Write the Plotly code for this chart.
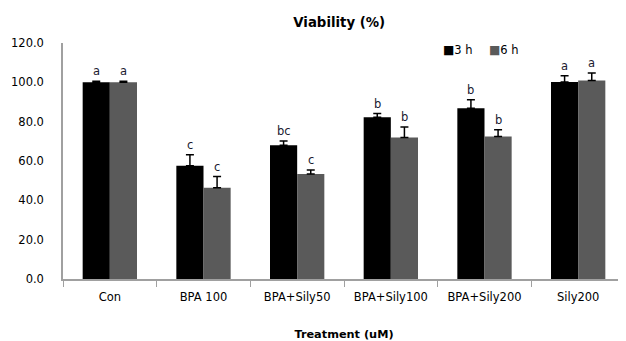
import plotly.graph_objects as go

categories = ["Con", "BPA 100", "BPA+Sily50", "BPA+Sily100", "BPA+Sily200", "Sily200"]
series_names = ["3 h", "6 h"]
series_colors = ["#000000", "#5a5a5a"]
values_3h = [100.0, 57.6, 68.0, 82.2, 86.8, 100.2]
errors_3h = [0.6, 5.6, 2.2, 1.9, 4.4, 3.2]
values_6h = [100.0, 46.4, 53.4, 72.0, 72.5, 100.9]
errors_6h = [0.6, 5.7, 2.0, 5.3, 3.4, 3.8]
letters_3h = ["a", "c", "bc", "b", "b", "a"]
letters_6h = ["a", "c", "c", "b", "b", "a"]
y_ticks = [0, 20, 40, 60, 80, 100, 120]

font = "DejaVu Sans"

fig = go.Figure()
for name, vals, errs, color in [
    (series_names[0], values_3h, errors_3h, series_colors[0]),
    (series_names[1], values_6h, errors_6h, series_colors[1]),
]:
    fig.add_trace(go.Bar(
        x=categories, y=vals, name=name, marker_color=color,
        marker_line_width=0, showlegend=False,
        error_y=dict(type="data", array=errs, arrayminus=[0] * len(errs),
                     symmetric=False, color="#000000", thickness=1.5, width=4),
    ))

bar_px = 13.6
for letters, vals, errs, shift in [
    (letters_3h, values_3h, errors_3h, -bar_px),
    (letters_6h, values_6h, errors_6h, bar_px),
]:
    for c, l, v, e in zip(categories, letters, vals, errs):
        fig.add_annotation(x=c, y=v + e, text=l, showarrow=False,
                           xshift=shift, yshift=1, yanchor="bottom",
                           font=dict(family=font, size=11.5, color="#202030"))

# compact Excel-style legend: coloured square glyph followed by the series name
for name, color, lx in zip(series_names, series_colors, [0.672, 0.754]):
    fig.add_annotation(
        xref="paper", yref="paper", x=lx, y=0.97, xanchor="left", yanchor="middle",
        showarrow=False,
        text=f'<span style="color:{color};font-size:12px">■</span>{name}',
        font=dict(family=font, size=11.5, color="#000000"),
    )

# the page body adds an 8 px offset, so the figure is sized to end at the window edge
fig.update_layout(
    width=618, height=333,
    margin=dict(l=55, r=1, t=35, b=62, autoexpand=False),
    paper_bgcolor="white", plot_bgcolor="white",
    barmode="group", bargap=0.42, bargroupgap=0,
    font=dict(family=font, size=11.5, color="#000000"),
    title=dict(text="<b>Viability (%)</b>", x=0.536, xanchor="center",
               y=1 - 14 / 333, yanchor="middle", font=dict(family=font, size=13.3)),
    showlegend=False,
    xaxis=dict(
        automargin=False,
        showline=True, linecolor="#a0a0a0", linewidth=1.5,
        ticks="outside", tickson="boundaries", ticklen=6, tickcolor="#a0a0a0",
        title=dict(text="<b>Treatment (uM)</b>", font=dict(family=font, size=11.3), standoff=29),
        tickfont=dict(family=font, size=11.5), ticklabelstandoff=6,
    ),
    yaxis=dict(
        automargin=False,
        range=[0, 120], tickvals=y_ticks, ticktext=[f"{t:.1f}" for t in y_ticks],
        showline=True, linecolor="#a0a0a0", linewidth=1.5,
        showgrid=False, zeroline=False, ticks="",
        tickfont=dict(family=font, size=11.5), ticklabelstandoff=15,
    ),
)

fig.write_html("out.html")
